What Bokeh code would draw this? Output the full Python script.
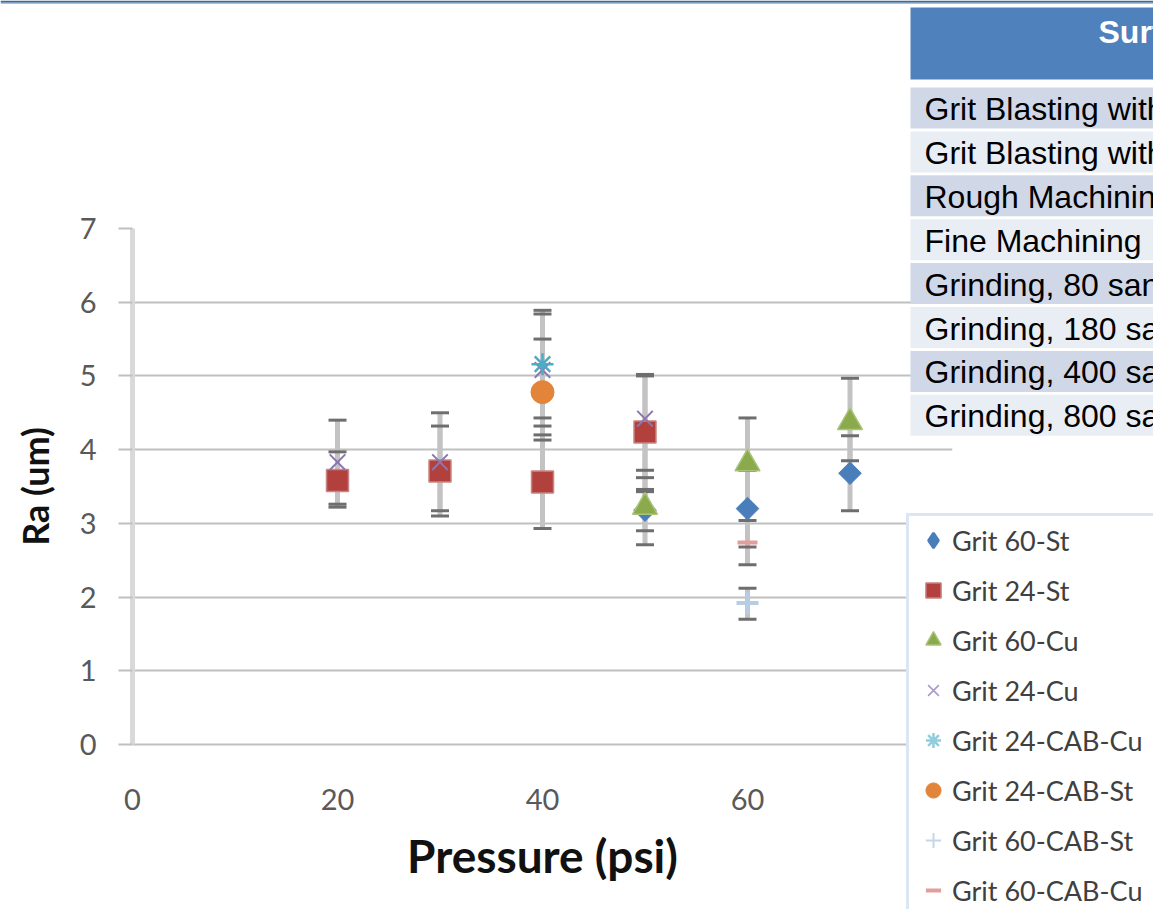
import numpy as np
from bokeh.plotting import figure
from bokeh.layouts import row
from bokeh.models import Legend, LegendItem, Range1d
from bokeh.core.properties import value
from bokeh.embed import file_html
from bokeh.resources import INLINE

# ---------------- data ----------------
series_names = ["Grit 60-St", "Grit 24-St", "Grit 60-Cu", "Grit 24-Cu",
                "Grit 24-CAB-Cu", "Grit 24-CAB-St", "Grit 60-CAB-St", "Grit 60-CAB-Cu"]

x_60_st = [50, 60, 70]
ra_60_st = [3.18, 3.20, 3.68]
lo_60_st = [2.90, 2.68, 3.17]
hi_60_st = [3.46, 3.72, 4.19]

x_24_st = [20, 30, 40, 50]
ra_24_st = [3.58, 3.71, 3.56, 4.24]
lo_24_st = [3.22, 3.10, 2.93, 3.43]
hi_24_st = [3.97, 4.32, 4.20, 5.02]

x_60_cu = [50, 60, 70]
ra_60_cu = [3.22, 3.81, 4.37]
lo_60_cu = [2.71, 3.19, 3.85]
hi_60_cu = [3.72, 4.43, 4.97]

x_24_cu = [20, 30, 40, 50]
ra_24_cu = [3.83, 3.83, 5.08, 4.42]
lo_24_cu = [3.26, 3.17, 4.32, 3.62]
hi_24_cu = [4.40, 4.50, 5.84, 5.00]

x_24_cab_cu = [40]
ra_24_cab_cu = [5.16]
lo_24_cab_cu = [4.43]
hi_24_cab_cu = [5.89]

x_24_cab_st = [40]
ra_24_cab_st = [4.78]
lo_24_cab_st = [4.13]
hi_24_cab_st = [5.50]

x_60_cab_st = [60]
ra_60_cab_st = [1.92]
lo_60_cab_st = [1.70]
hi_60_cab_st = [2.12]

x_60_cab_cu = [60]
ra_60_cab_cu = [2.74]
lo_60_cab_cu = [2.44]
hi_60_cab_cu = [3.04]

x_ticks = [0, 20, 40, 60, 80]
y_ticks = [0, 1, 2, 3, 4, 5, 6, 7]

table_header = ["Surface Preparation"]
table_rows = ["Grit Blasting with 24 grit", "Grit Blasting with 60 grit",
              "Rough Machining", "Fine Machining",
              "Grinding, 80 sandpaper", "Grinding, 180 sandpaper",
              "Grinding, 400 sandpaper", "Grinding, 800 sandpaper"]

# ---------------- styles ----------------
styles = [
    dict(marker="square", angle=np.pi / 4, size=16, fill_color="#4A7EBB", line_color="#4A7EBB"),
    dict(marker="square", size=22, fill_color="#B2413E", line_color="#C98583", line_width=1.5),
    dict(marker="triangle", size=25, fill_color="#8BAA4C", line_color="#A9C47A", line_width=1.5),
    dict(marker="x", size=22, line_color="#8C76B0", line_width=2),
    dict(marker="asterisk", size=22, line_color="#4BACC6", line_width=2.5),
    dict(marker="circle", size=23, fill_color="#E2853A", line_color="#E2853A"),
    dict(marker="cross", size=22, line_color="#B8CCE4", line_width=4),
    dict(marker="dash", size=20, line_color="#E39E9C", line_width=4),
]
legend_styles = [dict(st) for st in styles]
legend_styles[0] = dict(marker="diamond", size=16, fill_color="#4A7EBB", line_color="#4A7EBB", line_width=2.5)
legend_styles[3] = dict(marker="x", size=22, line_color="#A898C8", line_width=1.5)
legend_styles[4] = dict(marker="asterisk", size=22, line_color="#92CDDC", line_width=2.5)
legend_styles[6] = dict(marker="cross", size=22, line_color="#C6D6EA", line_width=2)

series = [
    (x_60_st, ra_60_st, lo_60_st, hi_60_st),
    (x_24_st, ra_24_st, lo_24_st, hi_24_st),
    (x_60_cu, ra_60_cu, lo_60_cu, hi_60_cu),
    (x_24_cu, ra_24_cu, lo_24_cu, hi_24_cu),
    (x_24_cab_cu, ra_24_cab_cu, lo_24_cab_cu, hi_24_cab_cu),
    (x_24_cab_st, ra_24_cab_st, lo_24_cab_st, hi_24_cab_st),
    (x_60_cab_st, ra_60_cab_st, lo_60_cab_st, hi_60_cab_st),
    (x_60_cab_cu, ra_60_cab_cu, lo_60_cab_cu, hi_60_cab_cu),
]

W, H = 1153, 909
FL, FR, FT, FB = 132, 952, 228, 744   # frame edges in window pixels

# ---------------- main chart ----------------
p = figure(width=W, height=H, x_range=Range1d(0, 80), y_range=Range1d(0, 7),
           output_backend="svg", toolbar_location=None,
           min_border_left=FL, min_border_right=W - FR,
           min_border_top=FT, min_border_bottom=H - FB)
p.frame_align = False
p.outline_line_color = None
p.background_fill_color = "white"
p.border_fill_color = "white"

p.xgrid.visible = False
p.ygrid.grid_line_color = "#C0C0C0"
p.ygrid.grid_line_width = 2

p.xaxis.ticker = x_ticks
p.yaxis.ticker = y_ticks
for ax in (p.xaxis[0], p.yaxis[0]):
    ax.major_label_text_font = "Lato"
    ax.major_label_text_font_size = "29px"
    ax.major_label_text_color = "#595959"
    ax.axis_label_text_font = "Lato"
    ax.axis_label_text_font_style = "bold"
    ax.axis_label_text_color = "#111111"
    ax.minor_tick_line_color = None

p.xaxis.axis_label = "Pressure (psi)"
p.xaxis.axis_label_text_font_size = "46px"
p.xaxis.axis_line_color = "#C0C0C0"
p.xaxis.axis_line_width = 2
p.xaxis.major_tick_out = 0
p.xaxis.major_tick_in = 0
p.xaxis.major_label_standoff = 44
p.xaxis.axis_label_standoff = 15

p.yaxis.axis_label = "Ra (um)"
p.yaxis.axis_label_text_font_size = "36px"
p.yaxis.axis_line_color = "#D9D9D9"
p.yaxis.axis_line_width = 5
p.yaxis.major_tick_line_color = "#C0C0C0"
p.yaxis.major_tick_line_width = 2
p.yaxis.major_tick_out = 14
p.yaxis.major_tick_in = 0
p.yaxis.major_label_standoff = 22
p.yaxis.axis_label_standoff = 20

# error bars
for xs, ys, lo, hi in series:
    p.segment(x0=xs, y0=lo, x1=xs, y1=hi, line_color="#C3C3C3", line_width=5)
for xs, ys, lo, hi in series:
    p.scatter(x=xs, y=lo, marker="dash", size=18, line_color="#6E6E6E", line_width=3)
    p.scatter(x=xs, y=hi, marker="dash", size=18, line_color="#6E6E6E", line_width=3)

# markers
for (xs, ys, lo, hi), st in zip(series, styles):
    p.scatter(x=xs, y=ys, **st)

# ---------------- transparent overlay in window pixels (slide rule, table, legend) ----------------
q = figure(width=W, height=H, x_range=Range1d(0, W), y_range=Range1d(H, 0),
           x_axis_type=None, y_axis_type=None,
           output_backend="svg", toolbar_location=None,
           min_border=0, min_border_left=0, min_border_right=0, min_border_top=0, min_border_bottom=0)
q.frame_align = False
q.outline_line_color = None
q.background_fill_alpha = 0
q.border_fill_alpha = 0
q.margin = (0, 0, 0, -W)
# ranges that keep the legend's own copies of the series out of view
q.extra_x_ranges = {"legend_only": Range1d(1000, 2000)}
q.extra_y_ranges = {"legend_only": Range1d(1000, 2000)}

# slide rule at the top
q.quad(left=[0], right=[W], top=[0], bottom=[2.2], fill_color="#3E6A9A", line_color=None)
q.quad(left=[0], right=[W], top=[2.2], bottom=[3.5], fill_color="#A9C0DC", line_color=None)

# table
q.quad(left=[910], right=[W + 10], top=[7], bottom=[79], fill_color="#4F81BD", line_color=None)
q.text(x=[1098], y=[31], text=table_header, text_font=value("Liberation Sans"),
       text_font_style="bold", text_font_size="32px", text_color="white",
       text_baseline="middle", text_align="left")
row_top = 87.0
row_h = 41.0
row_step = 43.9
tops = [row_top + i * row_step for i in range(len(table_rows))]
q.quad(left=[910] * len(tops), right=[W + 10] * len(tops), top=tops,
       bottom=[t + row_h for t in tops],
       fill_color=["#D0D8E8" if i % 2 == 0 else "#E9EDF4" for i in range(len(tops))],
       line_color=None)
q.text(x=[924] * len(tops), y=[t + row_h / 2 + 1 for t in tops], text=table_rows,
       text_font=value("Liberation Sans"), text_font_size="32px", text_color="#000000",
       text_baseline="middle", text_align="left")

# legend
leg_renderers = [q.scatter(x=xs, y=ys, x_range_name="legend_only", y_range_name="legend_only", **st)
                 for (xs, ys, lo, hi), st in zip(series, legend_styles)]
items = [LegendItem(label=n, renderers=[r]) for n, r in zip(series_names, leg_renderers)]
GL = 38
PAD = 5
SP = 50 - GL
LEG_H = 2 * PAD + 8 * GL + 7 * SP
leg = Legend(items=items, location=(906, H - (519 + LEG_H)),
             padding=PAD, spacing=SP, glyph_width=GL, glyph_height=GL, label_height=GL,
             label_width=260, label_standoff=0, margin=0,
             label_text_font="Lato", label_text_font_size="27px", label_text_color="#404040",
             border_line_color="#B9CDE5", border_line_width=3,
             background_fill_color="white", background_fill_alpha=1)
q.add_layout(leg)

layout = row(p, q)
open("out.html", "w").write(file_html(layout, INLINE))
